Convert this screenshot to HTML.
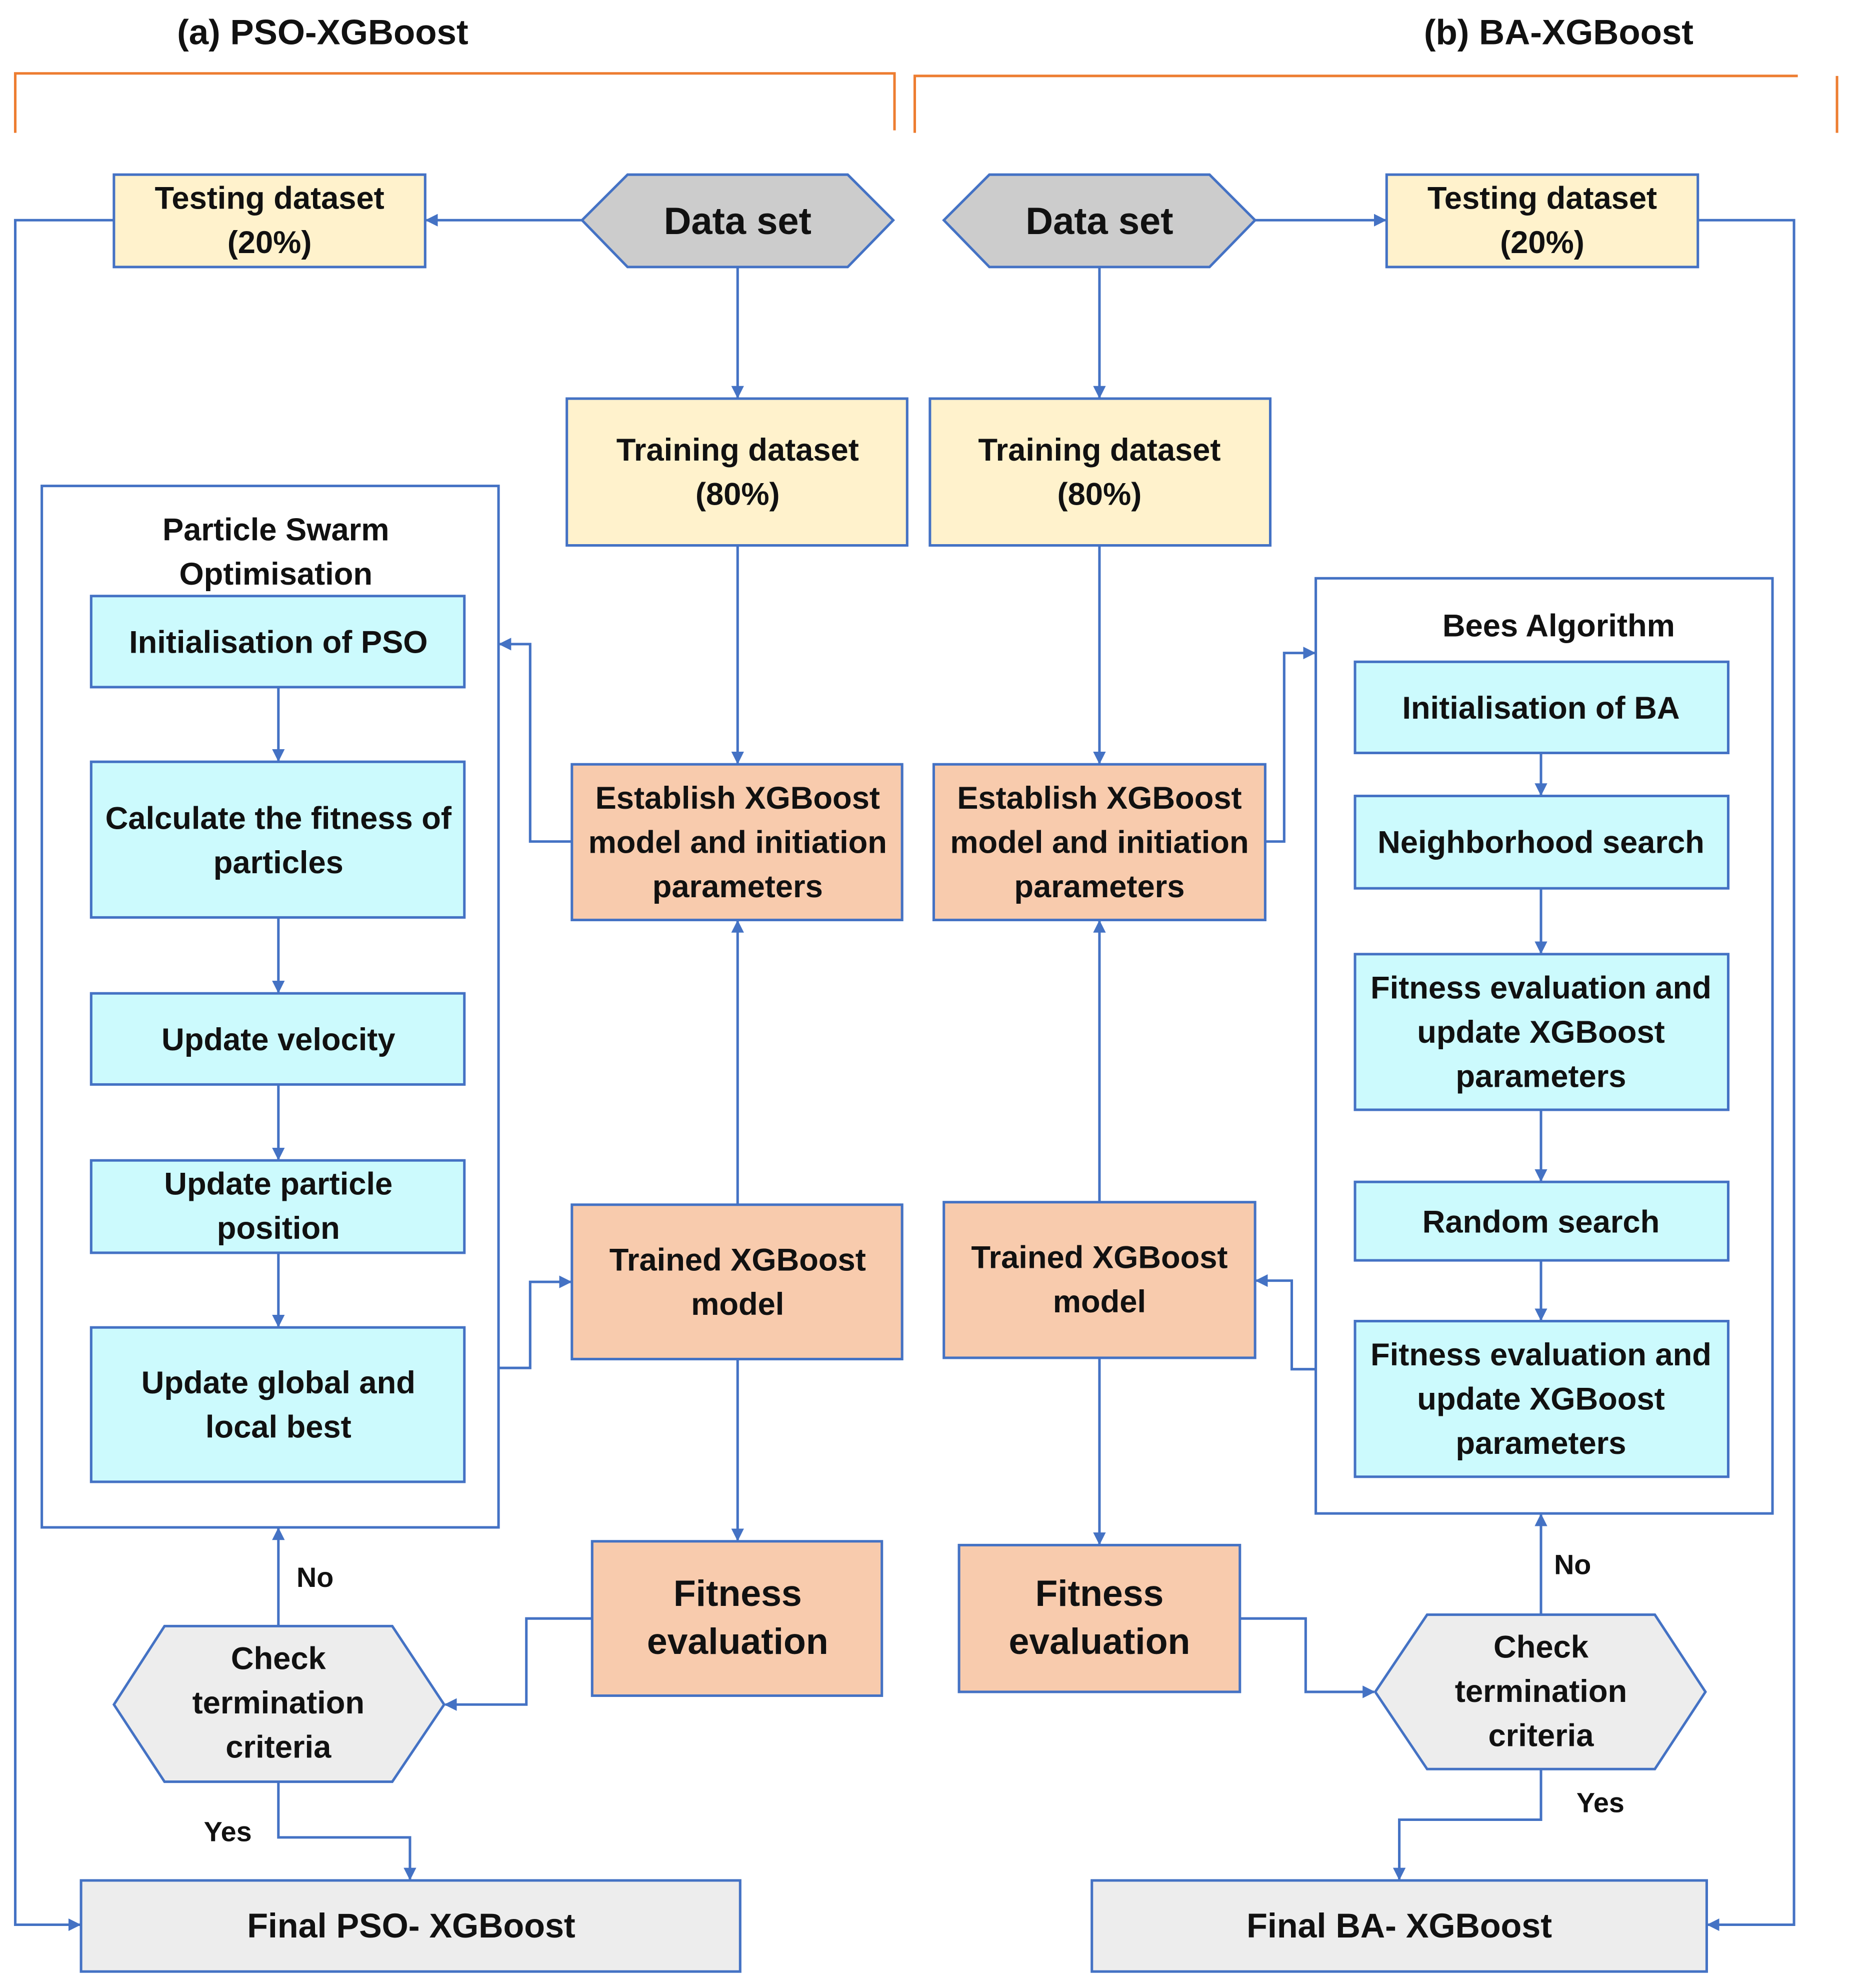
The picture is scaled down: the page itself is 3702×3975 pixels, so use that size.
<!DOCTYPE html>
<html><head><meta charset="utf-8"><style>
html,body{margin:0;padding:0;background:#fff}
svg{display:block}
text{font-family:"Liberation Sans",sans-serif;font-weight:bold;fill:#111;text-anchor:middle}
</style></head><body>
<svg width="3702" height="3975" viewBox="0 0 1463 1571" xmlns="http://www.w3.org/2000/svg">
<defs><marker id="a" markerWidth="10" markerHeight="10" refX="9" refY="5" orient="auto" markerUnits="userSpaceOnUse"><path d="M0,0 L10,5 L0,10 z" fill="#4472C4"/></marker></defs>
<g font-size="28"><text x="255" y="35">(a) PSO-XGBoost</text><text x="1232" y="35">(b) BA-XGBoost</text></g>
<g fill="none" stroke="#ED7D31" stroke-width="2">
<path d="M12,105 V58 H707 V103"/><path d="M723,105 V60 H1421"/><path d="M1452,60 V105"/></g>
<g stroke="#4472C4" stroke-width="2">
<rect x="90" y="138" width="246" height="73" fill="#FFF2CC"/>
<rect x="1096" y="138" width="246" height="73" fill="#FFF2CC"/>
<polygon points="460,174 496,138 670,138 706,174 670,211 496,211" fill="#CCCCCC"/>
<polygon points="746,174 782,138 956,138 992,174 956,211 782,211" fill="#CCCCCC"/>
<rect x="448" y="315" width="269" height="116" fill="#FFF2CC"/>
<rect x="735" y="315" width="269" height="116" fill="#FFF2CC"/>
<rect x="452" y="604" width="261" height="123" fill="#F8CBAD"/>
<rect x="738" y="604" width="262" height="123" fill="#F8CBAD"/>
<rect x="452" y="952" width="261" height="122" fill="#F8CBAD"/>
<rect x="746" y="950" width="246" height="123" fill="#F8CBAD"/>
<rect x="468" y="1218" width="229" height="122" fill="#F8CBAD"/>
<rect x="758" y="1221" width="222" height="116" fill="#F8CBAD"/>
<rect x="33" y="384" width="361" height="823" fill="none"/>
<rect x="1040" y="457" width="361" height="739" fill="none"/>
<g fill="#CCFAFD">
<rect x="72" y="471" width="295" height="72"/><rect x="72" y="602" width="295" height="123"/>
<rect x="72" y="785" width="295" height="72"/><rect x="72" y="917" width="295" height="73"/>
<rect x="72" y="1049" width="295" height="122"/>
<rect x="1071" y="523" width="295" height="72"/><rect x="1071" y="629" width="295" height="73"/>
<rect x="1071" y="754" width="295" height="123"/><rect x="1071" y="934" width="295" height="62"/>
<rect x="1071" y="1044" width="295" height="123"/></g>
<polygon points="90,1347 130,1285 310,1285 351,1347 310,1408 130,1408" fill="#EDEDED"/>
<polygon points="1087,1337 1128,1276 1308,1276 1348,1337 1308,1398 1128,1398" fill="#EDEDED"/>
<rect x="64" y="1486" width="521" height="72" fill="#EDEDED"/>
<rect x="863" y="1486" width="486" height="72" fill="#EDEDED"/>
</g>
<g fill="none" stroke="#4472C4" stroke-width="2" marker-end="url(#a)">
<path d="M460,174 H337"/><path d="M90,174 H12 V1521 H63"/>
<path d="M583,211 V314"/><path d="M583,431 V603"/>
<path d="M452,665 H419 V509 H395"/><path d="M394,1081 H419 V1013 H451"/>
<path d="M583,952 V728"/><path d="M583,1074 V1217"/>
<path d="M468,1279 H416 V1347 H352"/><path d="M220,1285 V1208"/>
<path d="M220,1408 V1452 H324 V1485"/>
<path d="M220,543 V601"/><path d="M220,725 V784"/><path d="M220,857 V916"/><path d="M220,990 V1048"/>
<path d="M992,174 H1095"/><path d="M1342,174 H1418 V1521 H1350"/>
<path d="M869,211 V314"/><path d="M869,431 V603"/>
<path d="M1000,665 H1015 V516 H1039"/><path d="M1040,1082 H1021 V1012 H993"/>
<path d="M869,950 V728"/><path d="M869,1073 V1220"/>
<path d="M980,1279 H1032 V1337 H1086"/><path d="M1218,1276 V1197"/>
<path d="M1218,1398 V1438 H1106 V1485"/>
<path d="M1218,595 V628"/><path d="M1218,702 V753"/><path d="M1218,877 V933"/><path d="M1218,996 V1043"/>
</g>
<g font-size="25">
<text x="213" y="165">Testing dataset</text><text x="213" y="200">(20%)</text>
<text x="1219" y="165">Testing dataset</text><text x="1219" y="200">(20%)</text>
<text x="583" y="364">Training dataset</text><text x="583" y="399">(80%)</text>
<text x="869" y="364">Training dataset</text><text x="869" y="399">(80%)</text>
<text x="583" y="639">Establish XGBoost</text><text x="583" y="674">model and initiation</text><text x="583" y="709">parameters</text>
<text x="869" y="639">Establish XGBoost</text><text x="869" y="674">model and initiation</text><text x="869" y="709">parameters</text>
<text x="583" y="1004">Trained XGBoost</text><text x="583" y="1039">model</text>
<text x="869" y="1002">Trained XGBoost</text><text x="869" y="1037">model</text>
<text x="218" y="427">Particle Swarm</text><text x="218" y="462">Optimisation</text>
<text x="220" y="516">Initialisation  of PSO</text>
<text x="220" y="655">Calculate the fitness of</text><text x="220" y="690">particles</text>
<text x="220" y="830">Update velocity</text>
<text x="220" y="944">Update particle</text><text x="220" y="979">position</text>
<text x="220" y="1101">Update global and</text><text x="220" y="1136">local best</text>
<text x="1232" y="503">Bees Algorithm</text>
<text x="1218" y="568">Initialisation  of BA</text>
<text x="1218" y="674">Neighborhood search</text>
<text x="1218" y="789">Fitness evaluation and</text><text x="1218" y="824">update XGBoost</text><text x="1218" y="859">parameters</text>
<text x="1218" y="974">Random search</text>
<text x="1218" y="1079">Fitness evaluation and</text><text x="1218" y="1114">update XGBoost</text><text x="1218" y="1149">parameters</text>
<text x="220" y="1319">Check</text><text x="220" y="1354">termination</text><text x="220" y="1389">criteria</text>
<text x="1218" y="1310">Check</text><text x="1218" y="1345">termination</text><text x="1218" y="1380">criteria</text>
</g>
<g font-size="22"><text x="249" y="1254">No</text><text x="180" y="1455">Yes</text><text x="1243" y="1244">No</text><text x="1265" y="1432">Yes</text></g>
<g font-size="29"><text x="583" y="1269">Fitness</text><text x="583" y="1307">evaluation</text>
<text x="869" y="1269">Fitness</text><text x="869" y="1307">evaluation</text></g>
<g font-size="27"><text x="325" y="1531">Final PSO- XGBoost</text><text x="1106" y="1531">Final BA- XGBoost</text></g>
<g font-size="30"><text x="583" y="185">Data set</text><text x="869" y="185">Data set</text></g>
</svg>
</body></html>
